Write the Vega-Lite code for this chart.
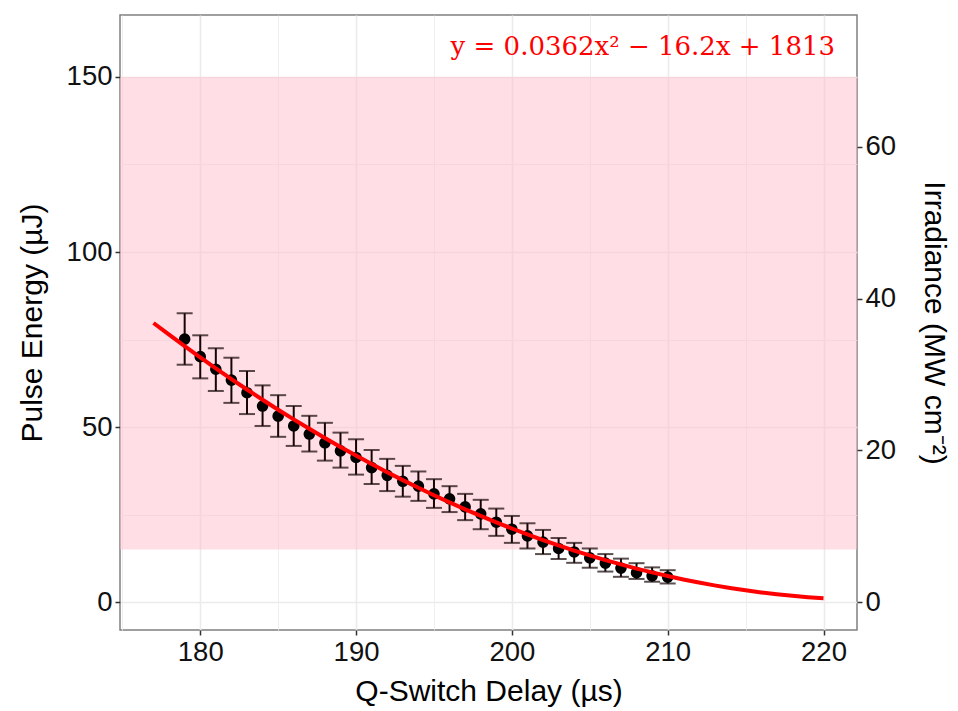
{
  "$schema": "https://vega.github.io/schema/vega-lite/v6.json",
  "width": 737,
  "height": 615,
  "autosize": {"type": "none"},
  "padding": {"left": 120, "top": 15, "right": 101, "bottom": 81},
  "background": "white",
  "config": {
    "view": {"stroke": "#808080", "strokeWidth": 1.5},
    "axis": {
      "domain": false,
      "tickColor": "#333333",
      "tickSize": 5,
      "tickWidth": 1.5,
      "labelFont": "Liberation Sans",
      "labelFontSize": 27.5,
      "labelColor": "#111111",
      "labelPadding": 3,
      "titleFont": "Liberation Sans",
      "titleFontSize": 30,
      "titleFontWeight": "normal",
      "titleColor": "#000000",
      "gridColor": "#EBEBEB"
    }
  },
  "datasets": {
    "band": [{"lo": 15, "hi": 150}],
    "eq": [{"d": 220.74, "e": 158.6, "label": "y = 0.0362x² − 16.2x + 1813"}],
    "pts": [
      {"d": 179, "e": 75.1, "lo": 67.8, "hi": 82.5},
      {"d": 180, "e": 70.1, "lo": 63.9, "hi": 76.2},
      {"d": 181, "e": 66.5, "lo": 60.3, "hi": 72.5},
      {"d": 182, "e": 63.4, "lo": 56.9, "hi": 69.8},
      {"d": 183, "e": 59.8, "lo": 53.7, "hi": 66.0},
      {"d": 184, "e": 56.0, "lo": 50.3, "hi": 61.9},
      {"d": 185, "e": 53.1, "lo": 47.2, "hi": 59.1},
      {"d": 186, "e": 50.3, "lo": 44.6, "hi": 56.0},
      {"d": 187, "e": 48.0, "lo": 43.0, "hi": 53.2},
      {"d": 188, "e": 45.5, "lo": 40.4, "hi": 51.2},
      {"d": 189, "e": 43.2, "lo": 38.4, "hi": 48.4},
      {"d": 190, "e": 41.3, "lo": 36.4, "hi": 46.5},
      {"d": 191, "e": 38.4, "lo": 33.7, "hi": 43.4},
      {"d": 192, "e": 36.2, "lo": 31.7, "hi": 40.9},
      {"d": 193, "e": 34.5, "lo": 30.1, "hi": 38.9},
      {"d": 194, "e": 33.1, "lo": 28.9, "hi": 37.3},
      {"d": 195, "e": 30.9, "lo": 26.9, "hi": 35.1},
      {"d": 196, "e": 29.5, "lo": 25.7, "hi": 33.1},
      {"d": 197, "e": 27.2, "lo": 23.4, "hi": 30.9},
      {"d": 198, "e": 25.2, "lo": 20.8, "hi": 29.2},
      {"d": 199, "e": 22.8, "lo": 18.9, "hi": 26.7},
      {"d": 200, "e": 20.8, "lo": 16.9, "hi": 24.6},
      {"d": 201, "e": 18.9, "lo": 15.3, "hi": 22.5},
      {"d": 202, "e": 17.1, "lo": 13.7, "hi": 20.6},
      {"d": 203, "e": 15.3, "lo": 12.3, "hi": 18.3},
      {"d": 204, "e": 14.3, "lo": 11.2, "hi": 16.9},
      {"d": 205, "e": 12.6, "lo": 9.8, "hi": 15.3},
      {"d": 206, "e": 11.1, "lo": 8.7, "hi": 13.7},
      {"d": 207, "e": 9.7, "lo": 7.2, "hi": 12.4},
      {"d": 208, "e": 8.4, "lo": 6.6, "hi": 11.1},
      {"d": 209, "e": 7.5, "lo": 5.8, "hi": 9.9},
      {"d": 210, "e": 7.1, "lo": 5.3, "hi": 9.1}
    ],
    "fit": [
      {"d": 177, "f": 79.72}, {"d": 178, "f": 76.37}, {"d": 179, "f": 73.10}, {"d": 180, "f": 69.89},
      {"d": 181, "f": 66.76}, {"d": 182, "f": 63.70}, {"d": 183, "f": 60.71}, {"d": 184, "f": 57.80},
      {"d": 185, "f": 54.95}, {"d": 186, "f": 52.18}, {"d": 187, "f": 49.49}, {"d": 188, "f": 46.86},
      {"d": 189, "f": 44.31}, {"d": 190, "f": 41.83}, {"d": 191, "f": 39.42}, {"d": 192, "f": 37.08},
      {"d": 193, "f": 34.82}, {"d": 194, "f": 32.63}, {"d": 195, "f": 30.51}, {"d": 196, "f": 28.47},
      {"d": 197, "f": 26.49}, {"d": 198, "f": 24.59}, {"d": 199, "f": 22.76}, {"d": 200, "f": 21.01},
      {"d": 201, "f": 19.32}, {"d": 202, "f": 17.71}, {"d": 203, "f": 16.17}, {"d": 204, "f": 14.70},
      {"d": 205, "f": 13.31}, {"d": 206, "f": 11.99}, {"d": 207, "f": 10.74}, {"d": 208, "f": 9.56},
      {"d": 209, "f": 8.46}, {"d": 210, "f": 7.42}, {"d": 211, "f": 6.46}, {"d": 212, "f": 5.58},
      {"d": 213, "f": 4.76}, {"d": 214, "f": 4.02}, {"d": 215, "f": 3.35}, {"d": 216, "f": 2.75},
      {"d": 217, "f": 2.22}, {"d": 218, "f": 1.77}, {"d": 219, "f": 1.39}, {"d": 220, "f": 1.08}
    ]
  },
  "layer": [
    {
      "layer": [
        {
          "data": {"name": "band"},
          "mark": {"type": "rect", "fill": "#FFC0CB", "opacity": 0.5},
          "encoding": {
            "y": {
              "field": "lo", "type": "quantitative",
              "scale": {"domain": [-7.99, 167.71], "nice": false, "zero": false},
              "axis": {
                "title": "Pulse Energy (µJ)",
                "values": [0, 25, 50, 75, 100, 125, 150],
                "labelExpr": "datum.value % 50 === 0 ? datum.label : ''",
                "tickOpacity": {"condition": {"test": "datum.value % 50 === 0", "value": 1}, "value": 0},
                "gridWidth": {"condition": {"test": "datum.value % 50 === 0", "value": 1.6}, "value": 0.8},
                "titleAngle": 270,
                "titleX": -88,
                "titleY": 307.5,
                "titleAlign": "center",
                "titleBaseline": "middle"
              }
            },
            "y2": {"field": "hi"}
          }
        },
        {
          "data": {"name": "pts"},
          "mark": {"type": "rule", "color": "#150505", "strokeWidth": 2},
          "encoding": {
            "x": {
              "field": "d", "type": "quantitative",
              "scale": {"domain": [174.85, 222.15], "nice": false, "zero": false},
              "axis": {
                "title": "Q-Switch Delay (µs)",
                "values": [175, 180, 185, 190, 195, 200, 205, 210, 215, 220],
                "labelExpr": "datum.value % 10 === 0 ? datum.label : ''",
                "tickOpacity": {"condition": {"test": "datum.value % 10 === 0", "value": 1}, "value": 0},
                "gridWidth": {"condition": {"test": "datum.value % 10 === 0", "value": 1.6}, "value": 0.8},
                "labelFlush": false,
                "titleX": 368.5,
                "titleY": 61,
                "titleAlign": "center",
                "titleBaseline": "middle"
              }
            },
            "y": {"field": "lo", "type": "quantitative", "scale": {"domain": [-7.99, 167.71], "nice": false, "zero": false}},
            "y2": {"field": "hi"}
          }
        },
        {
          "data": {"name": "pts"},
          "mark": {"type": "tick", "orient": "horizontal", "color": "#150505", "size": 16, "thickness": 2},
          "encoding": {
            "x": {"field": "d", "type": "quantitative"},
            "y": {"field": "lo", "type": "quantitative"}
          }
        },
        {
          "data": {"name": "pts"},
          "mark": {"type": "tick", "orient": "horizontal", "color": "#150505", "size": 16, "thickness": 2},
          "encoding": {
            "x": {"field": "d", "type": "quantitative"},
            "y": {"field": "hi", "type": "quantitative"}
          }
        },
        {
          "data": {"name": "pts"},
          "mark": {"type": "circle", "color": "#000000", "opacity": 1, "size": 135},
          "encoding": {
            "x": {"field": "d", "type": "quantitative"},
            "y": {"field": "e", "type": "quantitative"}
          }
        },
        {
          "data": {"name": "fit"},
          "mark": {"type": "line", "color": "#FF0000", "strokeWidth": 4, "interpolate": "monotone"},
          "encoding": {
            "x": {"field": "d", "type": "quantitative"},
            "y": {"field": "f", "type": "quantitative"}
          }
        },
        {
          "data": {"name": "eq"},
          "mark": {"type": "text", "color": "#FF0000", "font": "DejaVu Serif", "fontSize": 26, "align": "right", "baseline": "middle"},
          "encoding": {
            "x": {"field": "d", "type": "quantitative"},
            "y": {"field": "e", "type": "quantitative"},
            "text": {"field": "label"}
          }
        }
      ]
    },
    {
      "data": {"name": "pts"},
      "mark": {"type": "point", "opacity": 0},
      "encoding": {
        "y": {
          "field": "e", "type": "quantitative",
          "scale": {"domain": [-3.69, 77.39], "nice": false, "zero": false},
          "axis": {
            "orient": "right",
            "title": "Irradiance (MW cm⁻²)",
            "values": [0, 20, 40, 60],
            "grid": false,
            "titleAngle": 90,
            "titleX": 76,
            "titleY": 307.5,
            "titleAlign": "center",
            "titleBaseline": "middle"
          }
        }
      }
    }
  ],
  "resolve": {"scale": {"y": "independent"}}
}
